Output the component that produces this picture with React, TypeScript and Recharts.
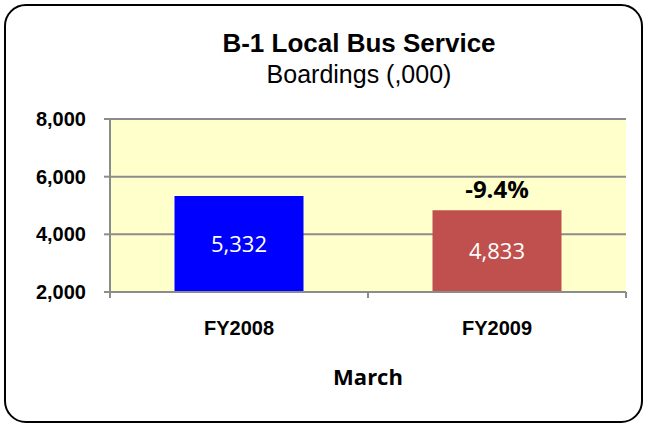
import { BarChart, Bar, XAxis, YAxis, CartesianGrid, Cell, LabelList } from 'recharts';

const categories = ['FY2008', 'FY2009'];
const boardings = [5332, 4833];
const changeLabels: (string | null)[] = [null, '-9.4%'];
const barColors = ['#0000FF', '#C0504D'];
const yTicks = [2000, 4000, 6000, 8000];

const W = 648;
const H = 425;
const PLOT_LEFT = 110;
const PLOT_RIGHT = 626;
const PLOT_TOP = 119;
const PLOT_BOTTOM = 292;
const X_AXIS_H = 60;
const HALF_BAND = (PLOT_RIGHT - PLOT_LEFT) / categories.length / 2;

const ARIAL = '"Liberation Sans", Arial, sans-serif';
const CALIBRI = '"Open Sans", sans-serif';
const GRAY = '#8c8c8c';

const data = categories.map((c, i) => ({
  category: c,
  value: boardings[i],
  change: changeLabels[i],
}));

function CategoryTick(props: any) {
  const { x, payload } = props;
  return (
    <g>
      <line x1={x - HALF_BAND} x2={x - HALF_BAND} y1={PLOT_BOTTOM} y2={PLOT_BOTTOM + 6} stroke={GRAY} strokeWidth={2} />
      <line x1={x + HALF_BAND} x2={x + HALF_BAND} y1={PLOT_BOTTOM} y2={PLOT_BOTTOM + 6} stroke={GRAY} strokeWidth={2} />
      <text x={x} y={PLOT_BOTTOM + 43} textAnchor="middle" fontFamily={ARIAL} fontWeight="bold" fontSize={20} fill="#000">
        {payload.value}
      </text>
    </g>
  );
}

function ChangeLabel(props: any) {
  const { x, y, width, value } = props;
  if (!value) return null;
  return (
    <text x={x + width / 2} y={y - 12} textAnchor="middle" fontFamily={CALIBRI} fontWeight="bold" fontSize={24} fill="#000">
      {value}
    </text>
  );
}

export default function App() {
  return (
    <div style={{ position: 'absolute', left: 0, top: 0, width: W, height: H, background: '#fff' }}>
      <BarChart
        width={W}
        height={H}
        data={data}
        margin={{ top: PLOT_TOP, right: W - PLOT_RIGHT, bottom: H - PLOT_BOTTOM - X_AXIS_H, left: 0 }}
        barCategoryGap="25%"
      >
        <CartesianGrid vertical={false} fill="#FFFFCC" stroke={GRAY} strokeWidth={2} />
        <XAxis
          dataKey="category"
          height={X_AXIS_H}
          interval={0}
          tickLine={false}
          axisLine={{ stroke: GRAY, strokeWidth: 2 }}
          tick={(p: any) => <CategoryTick {...p} />}
        />
        <YAxis
          width={PLOT_LEFT}
          domain={[2000, 8000]}
          ticks={yTicks}
          interval={0}
          tickSize={6}
          tickMargin={18}
          tickLine={{ stroke: GRAY, strokeWidth: 2 }}
          axisLine={{ stroke: GRAY, strokeWidth: 2 }}
          tickFormatter={(v: number) => v.toLocaleString('en-US')}
          tick={{ fontFamily: ARIAL, fontWeight: 'bold', fontSize: 20, fill: '#000' }}
        />
        <Bar dataKey="value" isAnimationActive={false}>
          {data.map((d, i) => (
            <Cell key={d.category} fill={barColors[i]} />
          ))}
          <LabelList
            dataKey="value"
            position="center"
            formatter={(v: any) => Number(v).toLocaleString('en-US')}
            fill="#fff"
            fontFamily={CALIBRI}
            fontSize={22}
          />
          <LabelList dataKey="change" content={<ChangeLabel />} />
        </Bar>
      </BarChart>

      <svg width={W} height={H} style={{ position: 'absolute', left: 0, top: 0, pointerEvents: 'none' }}>
        <text x={359} y={52} textAnchor="middle" fontFamily={ARIAL} fontWeight="bold" fontSize={26} fill="#000">
          B-1 Local Bus Service
        </text>
        <text x={359} y={83} textAnchor="middle" fontFamily={ARIAL} fontSize={25} fill="#000">
          Boardings (,000)
        </text>
        <text x={(PLOT_LEFT + PLOT_RIGHT) / 2} y={385} textAnchor="middle" fontFamily={CALIBRI} fontWeight="bold" fontSize={22} fill="#000">
          March
        </text>
      </svg>

      <div
        style={{
          position: 'absolute',
          left: 4,
          top: 4,
          width: 639,
          height: 419,
          border: '2px solid #000',
          borderRadius: 22,
          boxSizing: 'border-box',
          pointerEvents: 'none',
        }}
      />
    </div>
  );
}
